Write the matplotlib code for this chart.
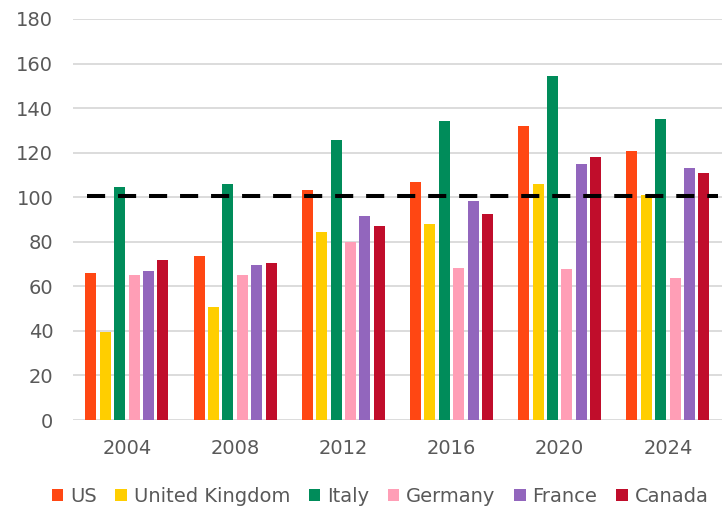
import numpy as np
import matplotlib
matplotlib.use("Agg")
import matplotlib.pyplot as plt

plt.rcParams['font.family'] = ['DejaVu Sans']

# Data
years = ["2004", "2008", "2012", "2016", "2020", "2024"]
countries = ["US", "United Kingdom", "Italy", "Germany", "France", "Canada"]
us = [66.2, 73.4, 103.1, 106.7, 132.0, 120.7]
uk = [39.7, 50.6, 84.3, 87.8, 105.8, 101.0]
italy = [104.6, 105.8, 125.8, 134.2, 154.5, 135.3]
germany = [64.9, 65.0, 79.7, 68.2, 67.9, 63.8]
france = [66.8, 69.7, 91.7, 98.1, 115.1, 113.1]
canada = [71.8, 70.3, 87.0, 92.3, 118.1, 110.7]
reference_level = 100.6

series = [us, uk, italy, germany, france, canada]
colors = ["#FF4713", "#FFCE00", "#008C5A", "#FF9EB6", "#9266BD", "#C00D2B"]

fig = plt.figure(figsize=(7.28, 5.08), dpi=100)
ax = fig.add_axes([0.0999, 0.1732, 0.8919, 0.7894])

x = np.arange(len(years))
pitch = 0.133
width = 0.102
for i, (vals, name, col) in enumerate(zip(series, countries, colors)):
    offset = (i - 2.5) * pitch
    ax.bar(x + offset, vals, width, color=col, label=name, zorder=3)

# dashed reference line
ax.hlines(reference_level, -0.37, 5.46, colors="black", linewidth=2.9,
          linestyles=(0, (4.5, 3.2)), zorder=4)

ax.set_xlim(-0.5, 5.5)
ax.set_ylim(0, 180)
ax.set_yticks(range(0, 181, 20))
ax.set_xticks(x)
ax.set_xticklabels(years)

ax.yaxis.grid(True, color="#D9D9D9", linewidth=1.3, zorder=0)
ax.set_axisbelow(True)
for s in ax.spines.values():
    s.set_visible(False)
ax.tick_params(axis="both", length=0, labelsize=14, colors="#595959")
ax.tick_params(axis="y", pad=14)
ax.tick_params(axis="x", pad=14)

fig.legend(loc="lower center", bbox_to_anchor=(0.522, -0.03), ncol=6,
           frameon=False, fontsize=14, handlelength=0.6, handleheight=0.6,
           handletextpad=0.35, columnspacing=0.95, labelcolor="#595959")

fig.savefig("out.png", dpi=100)
